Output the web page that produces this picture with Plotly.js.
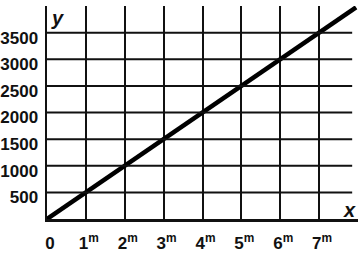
<!DOCTYPE html>
<html><head><meta charset="utf-8">
<script src="https://cdn.plot.ly/plotly-3.0.1.min.js"></script>
<style>html,body{margin:0;padding:0;background:#fff;}#chart{width:364px;height:263px;}</style>
</head><body><div id="chart"></div>
<script>
// Distance in metres and the value read at each point
const distance = [0, 1, 2, 3, 4, 5, 6, 7, 7.95];
const value = [0, 500, 1000, 1500, 2000, 2500, 3000, 3500, 3975];
const xTickVals = [0, 1, 2, 3, 4, 5, 6, 7];
const xTickText = ["0", "1<sup>m</sup>", "2<sup>m</sup>", "3<sup>m</sup>", "4<sup>m</sup>", "5<sup>m</sup>", "6<sup>m</sup>", "7<sup>m</sup>"];
const yTickVals = [500, 1000, 1500, 2000, 2500, 3000, 3500];
const yTickText = ["500", "1000", "1500", "2000", "2500", "3000", "3500"];

const font = {family: "Liberation Sans, Arial, sans-serif", size: 17, color: "#111", weight: "bold"};

const shapes = yTickVals.map(v => ({
  type: "line", xref: "x", yref: "y", x0: 0, x1: 7.85, y0: v, y1: v,
  line: {color: "#111", width: 2}
}));

const data = [{
  x: distance, y: value, type: "scatter", mode: "lines",
  line: {color: "#000", width: 4.5}, hoverinfo: "skip"
}];

const layout = {
  width: 364, height: 263,
  margin: {l: 47, r: 6, t: 6, b: 44},
  paper_bgcolor: "#fff", plot_bgcolor: "#fff",
  showlegend: false,
  font: font,
  xaxis: {
    range: [0, 8], tickvals: xTickVals, ticktext: xTickText,
    showgrid: true, gridcolor: "#111", gridwidth: 2,
    showline: true, linecolor: "#111", linewidth: 2.5,
    zeroline: false, ticks: "", ticklabelstandoff: 7, ticklabelshift: 3,
    tickfont: font, fixedrange: true
  },
  yaxis: {
    range: [0, 4000], tickvals: yTickVals, ticktext: yTickText,
    showgrid: false,
    showline: true, linecolor: "#111", linewidth: 2.5,
    zeroline: false, ticks: "", ticklabelstandoff: 3, ticklabelshift: 5,
    tickfont: font, fixedrange: true
  },
  shapes: shapes,
  annotations: [
    {text: "y", xref: "x", yref: "y", x: 0.05, y: 3780, xanchor: "left", yanchor: "middle", showarrow: false,
     font: {family: "Liberation Sans, Arial, sans-serif", size: 20, color: "#111", style: "italic"}},
    {text: "x", xref: "x", yref: "y", x: 8.0, y: 170, xanchor: "right", yanchor: "middle", showarrow: false,
     font: {family: "Liberation Sans, Arial, sans-serif", size: 20, color: "#111", style: "italic"}}
  ]
};

Plotly.newPlot("chart", data, layout, {staticPlot: true, displayModeBar: false});
</script></body></html>
